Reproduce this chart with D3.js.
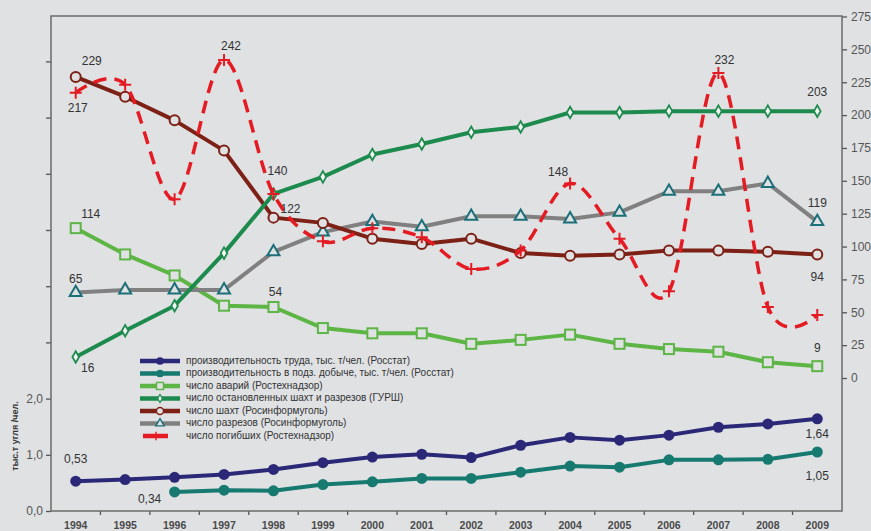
<!DOCTYPE html>
<html>
<head>
<meta charset="utf-8">
<script src="https://cdn.jsdelivr.net/npm/d3@7"></script>
<style>
  body { margin: 0; background: #dfe1e3; }
  svg { display: block; font-family: "Liberation Sans", Arial, sans-serif; }
</style>
</head>
<body>
<svg width="871" height="531"></svg>
<script>
// data
var years = d3.range(1994, 2010);
var prodTotal = [0.53, 0.56, 0.60, 0.65, 0.74, 0.86, 0.96, 1.01, 0.95, 1.17, 1.31, 1.26, 1.35, 1.49, 1.55, 1.64];
var prodUnder = [null, null, 0.34, 0.37, 0.36, 0.47, 0.52, 0.58, 0.58, 0.69, 0.80, 0.78, 0.91, 0.91, 0.92, 1.05];
var accidents = [114, 94, 78, 55, 54, 38, 34, 34, 26, 29, 33, 26, 22, 20, 12, 9];
var stopped = [16, 36, 55, 95, 140, 153, 170, 178, 187, 191, 202, 202, 203, 203, 203, 203];
var mines = [229, 214, 196, 173, 122, 118, 106, 102, 106, 95, 93, 94, 97, 97, 96, 94];
var pits = [65, 67, 67, 67, 96, 111, 119, 115, 123, 123, 121, 126, 142, 142, 148, 119];
var deaths = [217, 223, 136, 242, 140, 104, 114, 107, 83, 97, 148, 106, 66, 232, 54, 48];

var leftTicks = d3.range(0, 9);
var rightTicks = d3.range(0, 276, 25);
var yTitle = "тыс.т угля /чел.";

var series = [
  {key: "prodTotal", name: "производительность труда, тыс. т/чел. (Росстат)", values: prodTotal, axis: "L", color: "#2c2878", marker: "dot"},
  {key: "prodUnder", name: "производительность в подз. добыче, тыс. т/чел. (Росстат)", values: prodUnder, axis: "L", color: "#167a70", marker: "dot"},
  {key: "accidents", name: "число аварий (Ростехнадзор)", values: accidents, axis: "R", color: "#5db546", marker: "square"},
  {key: "stopped", name: "число остановленных шахт и разрезов (ГУРШ)", values: stopped, axis: "R", color: "#1d8b4d", marker: "diamond"},
  {key: "mines", name: "число шахт (Росинформуголь)", values: mines, axis: "R", color: "#7d2015", marker: "circle"},
  {key: "pits", name: "число разрезов (Росинформуголь)", values: pits, axis: "R", color: "#808080", mcolor: "#1b6f78", marker: "triangle"},
  {key: "deaths", name: "число погибших (Ростехнадзор)", values: deaths, axis: "R", color: "#e51b23", marker: "cross", dashed: true}
];
var byKey = {};
series.forEach(function(s) { byKey[s.key] = s; });

var svg = d3.select("svg");
var bg = "#dfe1e3";

var pLeft = 51, pRight = 842, pTop = 16, pBottom = 511;

var x = d3.scaleBand().domain(years).range([pLeft, pRight]);
var cx = function(yr) { return x(yr) + x.bandwidth() / 2; };
var yL = d3.scaleLinear().domain([0, 8]).range([pBottom, 61.4]);
var yR = d3.scaleLinear().domain([0, 275]).range([378, 16.5]);
var yOf = function(s) { return s.axis == "L" ? yL : yR; };

var commaFmt = function(v) { return d3.format(".2f")(v).replace(".", ","); };

// axes
svg.append("g")
  .attr("transform", "translate(" + pLeft + ",0)")
  .call(d3.axisLeft(yL).tickValues(leftTicks).tickSize(5).tickPadding(3)
    .tickFormat(function(d) { return d <= 2 ? d3.format(".1f")(d).replace(".", ",") : ""; }))
  .call(function(g) {
    g.select(".domain").remove();
    g.selectAll("line").attr("stroke", "#555").attr("stroke-width", 1.3);
    g.selectAll("text").attr("fill", "#555").attr("font-size", 12);
  });

svg.append("g")
  .attr("transform", "translate(" + pRight + ",0)")
  .call(d3.axisRight(yR).tickValues(rightTicks).tickSize(5).tickPadding(4))
  .call(function(g) {
    g.select(".domain").remove();
    g.selectAll("line").attr("stroke", "#555").attr("stroke-width", 1.3);
    g.selectAll("text").attr("fill", "#555").attr("font-size", 12);
  });

svg.append("g")
  .attr("transform", "translate(0," + pBottom + ")")
  .call(d3.axisBottom(x).tickSize(0).tickPadding(11))
  .call(function(g) {
    g.select(".domain").remove();
    g.selectAll("text").attr("fill", "#4a4a4a").attr("font-size", 10.5).attr("font-weight", "bold");
  });

// x ticks sit on band edges
svg.append("g").selectAll("line")
  .data(years.slice(1))
  .enter().append("line")
  .attr("x1", function(d) { return x(d); })
  .attr("x2", function(d) { return x(d); })
  .attr("y1", pBottom).attr("y2", pBottom + 4)
  .attr("stroke", "#555").attr("stroke-width", 1.3);

// frame
svg.append("rect")
  .attr("x", pLeft).attr("y", pTop)
  .attr("width", pRight - pLeft).attr("height", pBottom - pTop)
  .attr("fill", "none").attr("stroke", "#6a6a6a").attr("stroke-width", 1.5);

svg.append("text")
  .attr("transform", "translate(16,436) rotate(-90)")
  .attr("text-anchor", "middle")
  .attr("dominant-baseline", "middle")
  .attr("font-size", 9).attr("font-weight", "bold").attr("fill", "#333")
  .text(yTitle);

// marker drawing
function marker(g, s) {
  var mc = s.mcolor || s.color;
  if (s.marker == "dot") {
    g.append("circle").attr("r", 5.5).attr("fill", mc);
  } else if (s.marker == "circle") {
    g.append("circle").attr("r", 5).attr("fill", bg).attr("stroke", mc).attr("stroke-width", 2);
  } else if (s.marker == "square") {
    g.append("rect").attr("x", -5).attr("y", -5).attr("width", 10).attr("height", 10)
      .attr("fill", bg).attr("stroke", mc).attr("stroke-width", 2);
  } else if (s.marker == "diamond") {
    g.append("path").attr("d", d3.symbol(d3.symbolDiamond, 38)())
      .attr("fill", "#f4f4f4").attr("stroke", mc).attr("stroke-width", 1.8);
  } else if (s.marker == "triangle") {
    g.append("path").attr("d", d3.symbol(d3.symbolTriangle, 62)())
      .attr("fill", bg).attr("stroke", mc).attr("stroke-width", 2);
  } else if (s.marker == "cross") {
    g.append("path").attr("d", "M-6,0H6M0,-6V6")
      .attr("fill", "none").attr("stroke", mc).attr("stroke-width", 2);
  }
}

// series
var drawOrder = ["prodTotal", "prodUnder", "accidents", "pits", "mines", "stopped", "deaths"];
drawOrder.forEach(function(k) {
  var s = byKey[k];
  var y = yOf(s);
  var pts = years.map(function(yr, i) { return {year: yr, v: s.values[i]}; })
    .filter(function(d) { return d.v != null; });
  var line = d3.line()
    .x(function(d) { return cx(d.year); })
    .y(function(d) { return y(d.v); })
    .curve(s.dashed ? d3.curveCardinal.tension(0) : d3.curveLinear);
  var g = svg.append("g");
  g.append("path")
    .datum(pts)
    .attr("d", line)
    .attr("fill", "none")
    .attr("stroke", s.color)
    .attr("stroke-width", s.dashed ? 3.5 : 4)
    .attr("stroke-linejoin", "round")
    .attr("stroke-dasharray", s.dashed ? "13,8" : null);
  g.selectAll("g.m")
    .data(pts)
    .enter().append("g")
    .attr("class", "m")
    .attr("transform", function(d) { return "translate(" + cx(d.year) + "," + y(d.v) + ")"; })
    .each(function() { marker(d3.select(this), s); });
});

// value labels
var labelSpots = [
  ["mines", 1994, 16, -15], ["deaths", 1994, 2, 16], ["deaths", 1997, 7, -13],
  ["stopped", 1998, 4, -22], ["mines", 1998, 17, -8], ["accidents", 1994, 15, -13],
  ["pits", 1994, 0, -13], ["accidents", 1998, 2, -14], ["stopped", 1994, 12, 12],
  ["deaths", 2004, -12, -11], ["deaths", 2007, 6, -12], ["stopped", 2009, 0, -18],
  ["pits", 2009, 0, -18], ["mines", 2009, 0, 23], ["accidents", 2009, 0, -17],
  ["prodTotal", 1994, 0, -21], ["prodUnder", 1996, -25, 8],
  ["prodTotal", 2009, 0, 16], ["prodUnder", 2009, 0, 25]
];
svg.append("g").selectAll("text")
  .data(labelSpots)
  .enter().append("text")
  .attr("x", function(d) { return cx(d[1]) + d[2]; })
  .attr("y", function(d) {
    var s = byKey[d[0]];
    return yOf(s)(s.values[years.indexOf(d[1])]) + d[3];
  })
  .attr("text-anchor", "middle")
  .attr("dominant-baseline", "middle")
  .attr("font-size", 12)
  .attr("fill", "#333")
  .text(function(d) {
    var s = byKey[d[0]];
    var v = s.values[years.indexOf(d[1])];
    return s.axis == "L" ? commaFmt(v) : v;
  });

// legend
var legend = svg.append("g").attr("transform", "translate(140,361)");
var row = legend.selectAll("g")
  .data(series)
  .enter().append("g")
  .attr("transform", function(d, i) { return "translate(0," + i * 12.5 + ")"; });
row.append("line")
  .attr("x1", function(d) { return d.dashed ? 3 : 0; })
  .attr("x2", function(d) { return d.dashed ? 28 : 40; })
  .attr("stroke", function(d) { return d.color; })
  .attr("stroke-width", 4.5);
row.append("g")
  .attr("transform", function(d) { return "translate(" + (d.dashed ? 16 : 20) + ",0) scale(0.7)"; })
  .each(function(d) { marker(d3.select(this), d); });
row.append("text")
  .attr("x", 46)
  .attr("dominant-baseline", "middle")
  .attr("font-size", 10)
  .attr("fill", "#333")
  .text(function(d) { return d.name; });
</script>
</body>
</html>
